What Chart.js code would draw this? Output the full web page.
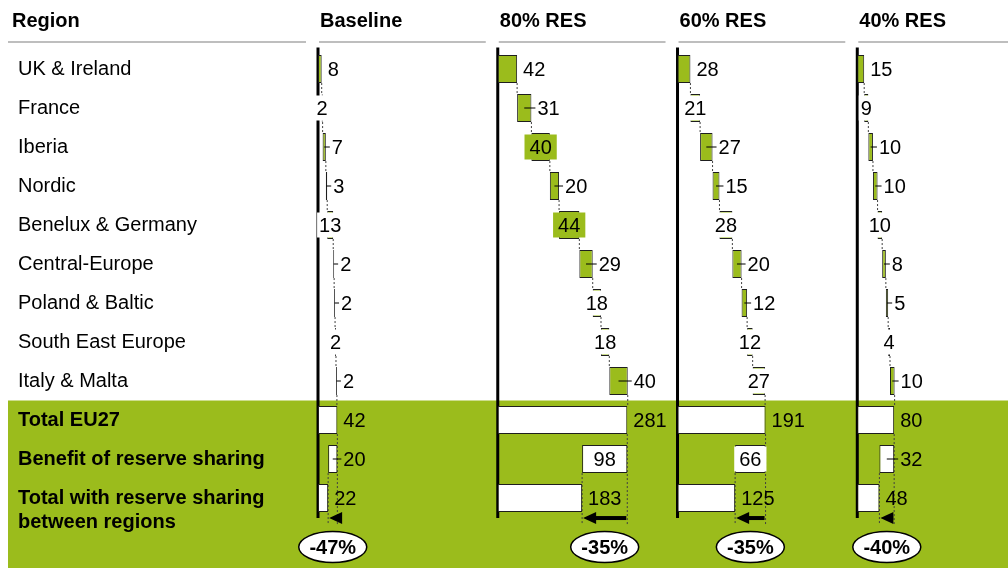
<!DOCTYPE html>
<html lang="en">
<head>
<meta charset="UTF-8">
<title>Reserve sharing by region</title>
<script src="https://cdn.jsdelivr.net/npm/chart.js"></script>
<style>
    body { margin: 0; background: #fff; }
    .chart-container { position: relative; width: 1008px; height: 568px; }
</style>
</head>
<body>
<div class="chart-container"><canvas id="reserveChart"></canvas></div>
<script>
const regions = ['UK & Ireland', 'France', 'Iberia', 'Nordic', 'Benelux & Germany',
    'Central-Europe', 'Poland & Baltic', 'South East Europe', 'Italy & Malta'];
// empty first line pushes the two-line label down, as in the original
const totalLabels = ['Total EU27', 'Benefit of reserve sharing', ['', 'Total with reserve sharing', 'between regions']];
const scenarios = ['Baseline', '80% RES', '60% RES', '40% RES'];

const baseline = [8, 2, 7, 3, 13, 2, 2, 2, 2];
const res80 = [42, 31, 40, 20, 44, 29, 18, 18, 40];
const res60 = [28, 21, 27, 15, 28, 20, 12, 12, 27];
const res40 = [15, 9, 10, 10, 10, 8, 5, 4, 10];
const regionValues = [baseline, res80, res60, res40];

const totalEU27 = [42, 281, 191, 80];
const benefit = [20, 98, 66, 32];
const totalWithSharing = [22, 183, 125, 48];
const reduction = ['-47%', '-35%', '-35%', '-40%'];

// where each value label goes: r = right, t = right with tick, i = inside, c = centred on white
const labelModes = ['rcttcttctrtr', 'rtititcctrir', 'rcttcttccrir', 'rcttcttctrtr'];

const GREEN = '#9BBC1C';
const EDGE = '#1e1e1e';
const FONT = '"Liberation Sans", Arial, sans-serif';
const SPAN = 390; // x units given to each scenario panel

const n = regions.length;

const datasets = scenarios.map((name, p) => {
    const off = p * SPAN;
    let cum = 0;
    const data = regionValues[p].map(v => {
        const start = cum;
        cum += v;
        return [off + start, off + cum];
    });
    data.push([off, off + totalEU27[p]]);
    data.push([off + totalWithSharing[p], off + totalEU27[p]]);
    data.push([off, off + totalWithSharing[p]]);
    return {
        label: name,
        data: data,
        grouped: false,
        backgroundColor: data.map((d, i) => i < n ? GREEN : '#ffffff'),
        borderColor: EDGE,
        borderWidth: 1,
        borderSkipped: false,
        barPercentage: 0.72,
        categoryPercentage: 1
    };
});

function seg(ctx, x1, y1, x2, y2) {
    ctx.beginPath();
    ctx.moveTo(x1, y1);
    ctx.lineTo(x2, y2);
    ctx.stroke();
}

function barsOf(chart, p) {
    return chart.getDatasetMeta(p).data.map(b => {
        const r = b.getProps(['x', 'y', 'base', 'height'], true);
        return { left: Math.min(r.x, r.base), right: Math.max(r.x, r.base), y: r.y, h: r.height };
    });
}

const panelPlugin = {
    id: 'panels',
    beforeDraw(chart) {
        const { ctx, chartArea, scales: { x, y } } = chart;
        const bandTop = (y.getPixelForValue(n - 1) + y.getPixelForValue(n)) / 2;
        ctx.save();
        ctx.fillStyle = GREEN;
        ctx.fillRect(8, bandTop, chart.width - 8, chart.height - bandTop);

        // column headers with their grey underline
        ctx.font = 'bold 20px ' + FONT;
        ctx.fillStyle = '#000';
        ctx.textBaseline = 'middle';
        ctx.textAlign = 'left';
        ctx.strokeStyle = '#a8a8a8';
        ctx.lineWidth = 1.5;
        ctx.fillText('Region', 12, 21);
        seg(ctx, 8, 42, chartArea.left - 12, 42);
        scenarios.forEach((s, p) => {
            const x0 = x.getPixelForValue(p * SPAN);
            const x1 = p < scenarios.length - 1 ? x.getPixelForValue((p + 1) * SPAN) - 12 : chart.width;
            ctx.fillText(s, x0 + 2, 21);
            seg(ctx, x0 + 1, 42, x1, 42);
        });
        ctx.restore();
    },
    beforeDatasetsDraw(chart) {
        const { ctx, chartArea, scales: { x } } = chart;
        ctx.save();
        scenarios.forEach((s, p) => {
            const bars = barsOf(chart, p);
            const last = bars[bars.length - 1];
            const arrowY = last.y + last.h / 2 + 6;
            const ax = x.getPixelForValue(p * SPAN);
            ctx.setLineDash([]);
            ctx.strokeStyle = '#000';
            ctx.lineWidth = 3;
            seg(ctx, ax, chartArea.top - 2, ax, arrowY);

            ctx.setLineDash([2, 2]);
            ctx.strokeStyle = '#404040';
            ctx.lineWidth = 1;
            for (let i = 0; i < n; i++) {
                const a = bars[i], b = bars[i + 1];
                seg(ctx, a.right, a.y + a.h / 2, a.right, b.y - b.h / 2);
            }
            const tot = bars[n], ben = bars[n + 1];
            seg(ctx, tot.right, tot.y + tot.h / 2, tot.right, arrowY + 7);
            seg(ctx, ben.left, ben.y + ben.h / 2, ben.left, arrowY + 7);
        });
        ctx.restore();
    },
    afterDatasetsDraw(chart) {
        const { ctx } = chart;
        ctx.save();
        ctx.textBaseline = 'middle';
        scenarios.forEach((s, p) => {
            const bars = barsOf(chart, p);
            const vals = [...regionValues[p], totalEU27[p], benefit[p], totalWithSharing[p]];
            ctx.font = '20px ' + FONT;
            bars.forEach((b, i) => {
                const text = String(vals[i]);
                const mode = labelModes[p][i];
                const mid = (b.left + b.right) / 2;
                const tw = ctx.measureText(text).width;
                if (mode === 'i' || mode === 'c') {
                    const pad = mode === 'i' ? 5 : 2;
                    ctx.fillStyle = mode === 'i' ? datasets[p].backgroundColor[i] : '#fff';
                    ctx.fillRect(mid - tw / 2 - pad, b.y - 12.5, tw + 2 * pad, 25);
                    ctx.fillStyle = '#000';
                    ctx.textAlign = 'center';
                    ctx.fillText(text, mid, b.y + 1);
                } else {
                    if (mode === 't') {
                        ctx.setLineDash([]);
                        ctx.strokeStyle = '#000';
                        ctx.lineWidth = 1;
                        seg(ctx, mid, b.y, b.right + 4, b.y);
                    }
                    ctx.fillStyle = '#000';
                    ctx.textAlign = 'left';
                    ctx.fillText(text, b.right + 6, b.y + 1);
                }
            });

            // reduction arrow and percentage bubble
            const tot = bars[n], ben = bars[n + 1], last = bars[n + 2];
            const arrowY = last.y + last.h / 2 + 6;
            const tipX = ben.left + 1, head = 13;
            ctx.fillStyle = '#000';
            ctx.strokeStyle = '#000';
            if (tot.right > tipX + head) {
                ctx.setLineDash([]);
                ctx.lineWidth = 4;
                seg(ctx, tipX + head - 1, arrowY, tot.right - 1, arrowY);
            }
            ctx.beginPath();
            ctx.moveTo(tipX, arrowY);
            ctx.lineTo(tipX + head, arrowY - 6);
            ctx.lineTo(tipX + head, arrowY + 6);
            ctx.closePath();
            ctx.fill();

            const cx = (tot.right + ben.left) / 2, cy = arrowY + 29;
            ctx.beginPath();
            ctx.ellipse(cx, cy, 34, 15.5, 0, 0, Math.PI * 2);
            ctx.fillStyle = '#fff';
            ctx.fill();
            ctx.lineWidth = 1.5;
            ctx.stroke();
            ctx.fillStyle = '#000';
            ctx.font = 'bold 20px ' + FONT;
            ctx.textAlign = 'center';
            ctx.fillText(reduction[p], cx, cy + 1);
        });
        ctx.restore();
    }
};

new Chart(document.getElementById('reserveChart').getContext('2d'), {
    type: 'bar',
    data: { labels: [...regions, ...totalLabels], datasets: datasets },
    options: {
        indexAxis: 'y',
        responsive: true,
        maintainAspectRatio: false,
        animation: false,
        layout: { padding: { left: 18, top: 49.5, right: 0, bottom: 50.5 } },
        plugins: { legend: { display: false }, tooltip: { enabled: false } },
        scales: {
            x: { type: 'linear', min: 0, max: 1497, display: false },
            y: {
                offset: true,
                grid: { display: false, drawTicks: false },
                border: { display: false },
                ticks: {
                    autoSkip: false,
                    crossAlign: 'far',
                    padding: 0,
                    color: '#000',
                    font: ctx => ({ family: FONT, size: 20, lineHeight: 1.2,
                        weight: ctx.index >= n ? 'bold' : 'normal' })
                },
                afterFit(scale) { scale.width = 300; }
            }
        }
    },
    plugins: [panelPlugin]
});
</script>
</body>
</html>
